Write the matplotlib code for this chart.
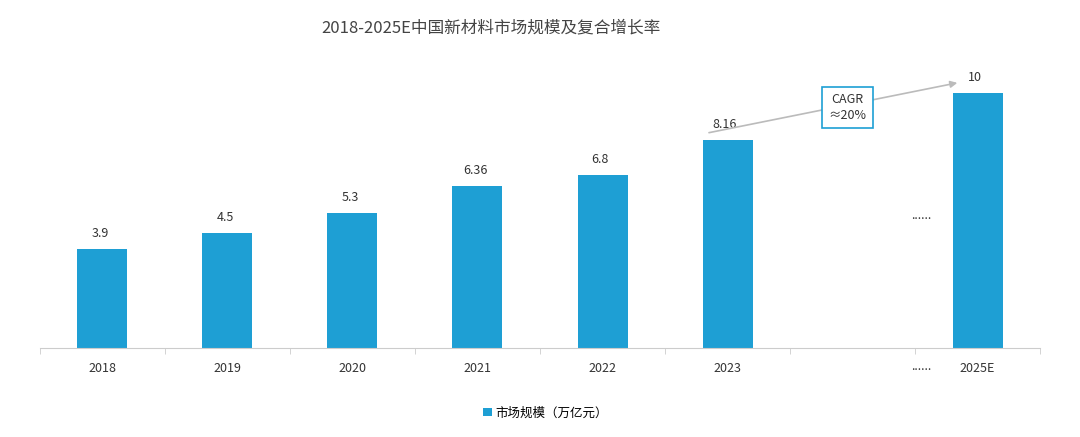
import matplotlib.pyplot as plt

plt.rcParams['font.family'] = ['Noto Sans CJK SC', 'DejaVu Sans']

categories = ["2018", "2019", "2020", "2021", "2022", "2023", "", "2025E"]
values = [3.9, 4.5, 5.3, 6.36, 6.8, 8.16, None, 10]
labels = ["3.9", "4.5", "5.3", "6.36", "6.8", "8.16", "", "10"]

fig = plt.figure(figsize=(10.8, 4.37), dpi=100)
ax = fig.add_axes([0.037, 0.204, 0.926, 0.670])

color = "#1E9FD4"
xs = [i for i, v in enumerate(values) if v is not None]
vs = [v for v in values if v is not None]
ax.bar(xs, vs, width=0.4, color=color, label="市场规模（万亿元）")
for x, v, lab in zip(xs, vs, [l for l in labels if l]):
    ax.text(x - 0.02, v + 0.35, lab, ha="center", va="bottom", fontsize=9, color="#333333")

ax.set_xlim(-0.5, 7.5)
ax.set_ylim(0, 11.5)
ax.set_xticks(range(len(categories)))
ax.set_xticklabels(categories, fontsize=9, color="#333333")
ax.set_xticks([i - 0.5 for i in range(9)], minor=True)
ax.tick_params(axis="x", which="major", length=0, pad=10)
ax.tick_params(axis="x", which="minor", length=4, color="#cccccc")
ax.set_yticks([])
for s in ["top", "right", "left"]:
    ax.spines[s].set_visible(False)
ax.spines["bottom"].set_color("#cccccc")

# gap markers
ax.text(6.55, -0.75, "......", ha="center", va="center", fontsize=9, color="#333333")
ax.text(6.55, 5.2, "......", ha="center", va="center", fontsize=9, color="#333333")

# CAGR arrow + box
ax.annotate("", xy=(6.86, 10.43), xytext=(4.83, 8.43),
            arrowprops=dict(arrowstyle="-|>", color="#bbbbbb", lw=1.2))
ax.text(5.96, 9.45, "CAGR\n≈20%", ha="center", va="center", fontsize=9, color="#333333",
        linespacing=1.3,
        bbox=dict(boxstyle="square,pad=0.5", fc="white", ec=color, lw=1.2))

fig.text(0.455, 0.935, "2018-2025E中国新材料市场规模及复合增长率", ha="center", va="center",
         fontsize=12, color="#444444")
fig.legend(loc="center", bbox_to_anchor=(0.505, 0.055), frameon=False, fontsize=9,
           handlelength=0.7, handleheight=0.7, handletextpad=0.3)

fig.savefig("out.png", dpi=100)
